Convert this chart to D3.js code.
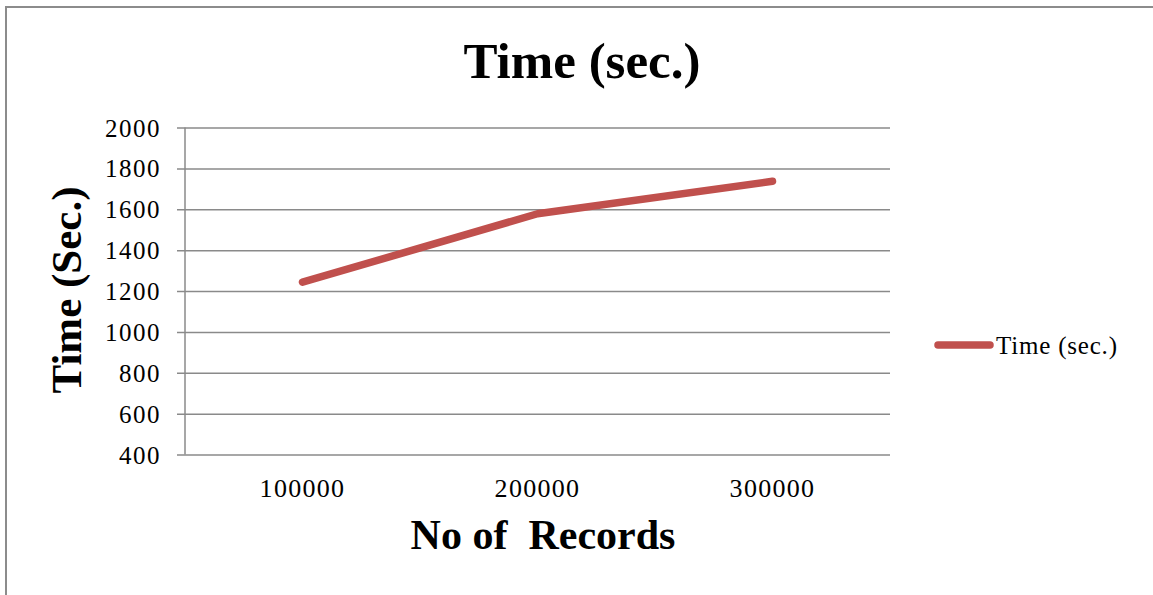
<!DOCTYPE html>
<html>
<head>
<meta charset="utf-8">
<script src="https://cdn.jsdelivr.net/npm/d3@7"></script>
<style>
  html, body { margin: 0; padding: 0; background: #fff; }
  svg { display: block; }
</style>
</head>
<body>
<svg id="chart" width="1153" height="595"></svg>
<script>
const categories = ["100000", "200000", "300000"];
const seriesName = "Time (sec.)";
const values = [1243, 1578, 1737];
const yTicks = [400, 600, 800, 1000, 1200, 1400, 1600, 1800, 2000];
const chartTitle = "Time (sec.)";
const xTitle = "No of  Records";
const yTitle = "Time (Sec.)";

const svg = d3.select("#chart");
const W = 1153, H = 595;
const serif = "'Liberation Serif', 'Times New Roman', serif";
const gridColor = "#8a8a8a";
const lineColor = "#C0504D";

// outer border (only left/top visible in frame)
svg.append("rect")
  .attr("x", 6).attr("y", 7)
  .attr("width", W + 20).attr("height", H + 20)
  .attr("fill", "none").attr("stroke", "#8c8c8c").attr("stroke-width", 2);

const plot = { left: 185, right: 890, top: 127.5, bottom: 454.5 };

const x = d3.scaleBand().domain(categories).range([plot.left, plot.right]);
const y = d3.scaleLinear().domain([400, 2000]).range([plot.bottom, plot.top]);

// gridlines + y ticks
const yAxis = d3.axisLeft(y).tickValues(yTicks)
  .tickSize(-(plot.right - plot.left)).tickSizeOuter(0).tickPadding(24)
  .tickFormat(d3.format("d"));
const gy = svg.append("g").attr("transform", `translate(${plot.left},0)`).call(yAxis);
gy.select(".domain").remove();
gy.selectAll(".tick line").attr("stroke", gridColor).attr("stroke-width", 1.5)
  .attr("x1", -8);
gy.selectAll(".tick text")
  .attr("font-family", serif).attr("font-size", 25).attr("fill", "#000")
  .attr("letter-spacing", 1.5).attr("dy", "0.34em");

// y axis line
svg.append("line")
  .attr("x1", plot.left).attr("x2", plot.left)
  .attr("y1", plot.top).attr("y2", plot.bottom)
  .attr("stroke", gridColor).attr("stroke-width", 1.5);

// x axis labels
const xAxis = d3.axisBottom(x).tickSize(0).tickPadding(24);
const gx = svg.append("g").attr("transform", `translate(0,${plot.bottom})`).call(xAxis);
gx.select(".domain").remove();
gx.selectAll(".tick text")
  .attr("font-family", serif).attr("font-size", 26).attr("fill", "#000")
  .attr("letter-spacing", 1.3);

// line
const line = d3.line()
  .x((d, i) => x(categories[i]) + x.bandwidth() / 2)
  .y(d => y(d));
svg.append("path")
  .datum(values)
  .attr("d", line)
  .attr("fill", "none")
  .attr("stroke", lineColor)
  .attr("stroke-width", 7.5)
  .attr("stroke-linecap", "round")
  .attr("stroke-linejoin", "round");

// chart title
svg.append("text")
  .attr("x", 582).attr("y", 78)
  .attr("text-anchor", "middle")
  .attr("font-family", serif).attr("font-weight", "bold").attr("font-size", 51)
  .attr("fill", "#000")
  .text(chartTitle);

// x axis title
svg.append("text")
  .attr("x", 543).attr("y", 549)
  .attr("text-anchor", "middle")
  .attr("font-family", serif).attr("font-weight", "bold").attr("font-size", 42)
  .attr("fill", "#000")
  .attr("xml:space", "preserve")
  .style("white-space", "pre")
  .text(xTitle);

// y axis title
svg.append("text")
  .attr("transform", "translate(81,290) rotate(-90)")
  .attr("text-anchor", "middle")
  .attr("font-family", serif).attr("font-weight", "bold").attr("font-size", 43)
  .attr("fill", "#000")
  .text(yTitle);

// legend
const lg = svg.append("g");
lg.append("line")
  .attr("x1", 938).attr("x2", 990)
  .attr("y1", 345).attr("y2", 345)
  .attr("stroke", lineColor).attr("stroke-width", 7.5)
  .attr("stroke-linecap", "round");
lg.append("text")
  .attr("x", 996).attr("y", 354)
  .attr("font-family", serif).attr("font-size", 25).attr("fill", "#000")
  .attr("letter-spacing", 0.8)
  .text(seriesName);
</script>
</body>
</html>
